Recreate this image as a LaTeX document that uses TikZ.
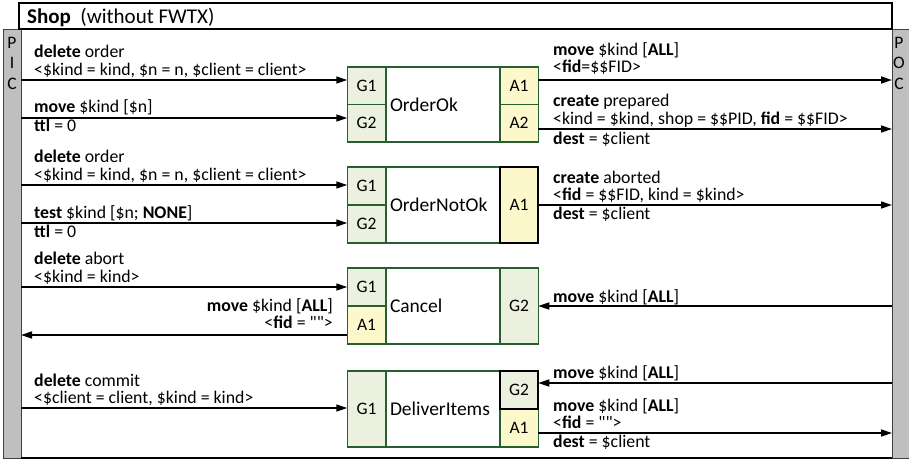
\documentclass[tikz,border=0pt]{standalone}
\usepackage{fontspec}
\setmainfont{Carlito}[Ligatures=TeXOff]
\usetikzlibrary{arrows.meta}
\definecolor{gfill}{HTML}{EBF1DE}
\definecolor{afill}{HTML}{FCF8CC}
\definecolor{bdr}{HTML}{265F30}
\definecolor{barg}{HTML}{BFBFBF}
\begin{document}
\begin{tikzpicture}[x=1pt,y=-1pt,
  txt/.style={font=\fontsize{17.8}{18}\selectfont, inner sep=0pt, anchor=base west},
  txtr/.style={txt, anchor=base east},
  cell/.style={draw=bdr, line width=1.5pt, minimum width=38.5pt, font=\fontsize{17.5}{18}\selectfont, inner sep=0pt, outer sep=0pt},
  gcell/.style={cell, fill=gfill},
  acell/.style={cell, fill=afill},
  blk/.style={draw=black, line width=2pt},
  midcell/.style={cell, fill=white, minimum width=114pt, text width=106pt, align=left, font=\fontsize{19.5}{20}\selectfont},
  arr/.style={line width=1.5pt, -{Triangle[length=11pt,width=7pt]}},
  bar/.style={draw=black!75, fill=barg, line width=1pt, minimum width=18pt, minimum height=429pt, inner sep=0pt, outer sep=0pt},
  bartxt/.style={font=\fontsize{17.5}{20.5}\selectfont, align=center, anchor=north, inner sep=0pt},
]
\useasboundingbox (0,0) rectangle (909,461);
% side bars
\node[bar] (pic) at (12,243.5) {};
\node[bar, minimum width=17pt] (poc) at (900.5,243.5) {};
\node[bartxt] (pict) at (12,37) {P\\I\\C};
\node[bartxt] (poct) at (899,37) {P\\O\\C};
\draw[line width=1.5pt] (pic.south east) -- (poc.south west);
% title
\node[draw=black, fill=white, line width=1.5pt, minimum width=873pt, minimum height=26pt, inner sep=0pt] (title) at (455.5,16) {};
\node[txt, font=\fontsize{21}{22}\selectfont] (titlet) at (27,23) {\textbf{Shop}\ \ (without FWTX)};

% OrderOk
\node[midcell, minimum height=75pt] (ook) at (443,104.5) {OrderOk};
\node[gcell, minimum height=37.5pt] (ookg1) at (366.5,85.75) {G1};
\node[gcell, minimum height=37.5pt] (ookg2) at (366.5,123.25) {G2};
\node[acell, minimum height=37.5pt] (ooka1) at (519,85.75) {A1};
\node[acell, minimum height=37.5pt] (ooka2) at (519,123.25) {A2};
% OrderNotOk
\node[midcell, minimum height=76pt] (onok) at (443,205) {OrderNotOk};
\node[gcell, minimum height=38pt] (onokg1) at (366.5,186) {G1};
\node[gcell, minimum height=38pt] (onokg2) at (366.5,224) {G2};
\node[acell, blk, minimum height=76pt] (onoka1) at (519,205) {A1};
% Cancel
\node[midcell, minimum height=76pt] (can) at (443,306) {Cancel};
\node[gcell, minimum height=38pt] (cang1) at (366.5,287) {G1};
\node[acell, minimum height=38pt] (cana1) at (366.5,325) {A1};
\node[gcell, minimum height=76pt] (cang2) at (519,306) {G2};
% DeliverItems
\node[midcell, minimum height=76pt] (di) at (443,409) {DeliverItems};
\node[gcell, minimum height=76pt] (dig1) at (366.5,409) {G1};
\node[acell, minimum height=38pt] (dia1) at (519,428) {A1};
\node[gcell, blk, minimum height=38pt] (dig2) at (519,390) {G2};

% left connectors
\draw[arr] (pic.east |- 0,80) -- (ookg1.west |- 0,80);
\draw[arr] (pic.east |- 0,118) -- (ookg2.west |- 0,118);
\draw[arr] (pic.east |- 0,185) -- (onokg1.west |- 0,185);
\draw[arr] (pic.east |- 0,223) -- (onokg2.west |- 0,223);
\draw[arr] (pic.east |- 0,287) -- (cang1.west |- 0,287);
\draw[arr] (cana1.west |- 0,335) -- (pic.east |- 0,335);
\draw[arr] (pic.east |- 0,408) -- (dig1.west |- 0,408);
% right connectors
\draw[arr] (ooka1.east |- 0,80) -- (poc.west |- 0,80);
\draw[arr] (ooka2.east |- 0,129) -- (poc.west |- 0,129);
\draw[arr] (onoka1.east |- 0,205) -- (poc.west |- 0,205);
\draw[arr] (poc.west |- 0,306) -- (cang2.east |- 0,306);
\draw[arr] (poc.west |- 0,383) -- (dig2.east |- 0,383);
\draw[arr] (dia1.east |- 0,433) -- (poc.west |- 0,433);

% left labels
\node[txt] (l1a) at (34,57) {\textbf{delete} order};
\node[txt] (l1b) at (34,75) {<\$kind = kind, \$n = n, \$client = client>};
\node[txt] (l2a) at (34,112) {\textbf{move} \$kind [\$n]};
\node[txt] (l2b) at (34,131) {\textbf{ttl} = 0};
\node[txt] (l3a) at (34,162) {\textbf{delete} order};
\node[txt] (l3b) at (34,180) {<\$kind = kind, \$n = n, \$client = client>};
\node[txt] (l4a) at (34,218) {\textbf{test} \$kind [\$n; \textbf{NONE}]};
\node[txt] (l4b) at (34,237) {\textbf{ttl} = 0};
\node[txt] (l5a) at (34,264) {\textbf{delete} abort};
\node[txt] (l5b) at (34,282) {<\$kind = kind>};
\node[txtr] (l6a) at (333,311) {\textbf{move} \$kind [\textbf{ALL}]};
\node[txtr] (l6b) at (333,328) {<\textbf{fid} = "">};
\node[txt] (l7a) at (34,386) {\textbf{delete} commit};
\node[txt] (l7b) at (34,403) {<\$client = client, \$kind = kind>};
% right labels
\node[txt] (r1a) at (553,55) {\textbf{move} \$kind [\textbf{ALL}]};
\node[txt] (r1b) at (553,72) {<\textbf{fid}=\$\$FID>};
\node[txt] (r2a) at (553,106) {\textbf{create} prepared};
\node[txt] (r2b) at (553,124) {<kind = \$kind, shop = \$\$PID, \textbf{fid} = \$\$FID>};
\node[txt] (r2c) at (553,144) {\textbf{dest} = \$client};
\node[txt] (r3a) at (553,183) {\textbf{create} aborted};
\node[txt] (r3b) at (553,200) {<\textbf{fid} = \$\$FID, kind = \$kind>};
\node[txt] (r3c) at (553,219) {\textbf{dest} = \$client};
\node[txt] (r4a) at (553,302) {\textbf{move} \$kind [\textbf{ALL}]};
\node[txt] (r5a) at (553,378) {\textbf{move} \$kind [\textbf{ALL}]};
\node[txt] (r6a) at (553,411) {\textbf{move} \$kind [\textbf{ALL}]};
\node[txt] (r6b) at (553,428) {<\textbf{fid} = "">};
\node[txt] (r6c) at (553,447) {\textbf{dest} = \$client};
\end{tikzpicture}
\end{document}
